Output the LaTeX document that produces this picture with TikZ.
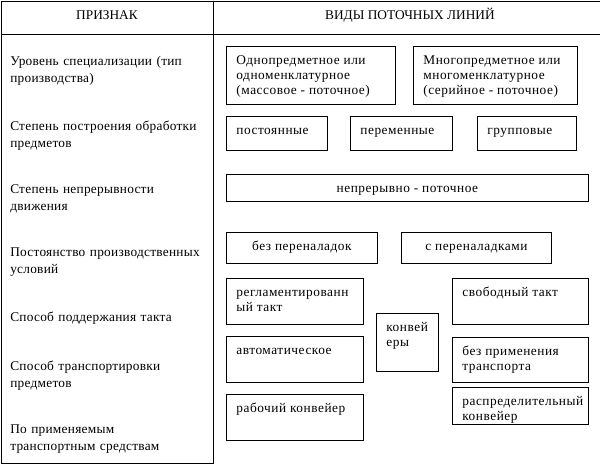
\documentclass[tikz,border=0pt]{standalone}
\usepackage{fontspec}
\setmainfont{Liberation Serif}
\usepackage{tikz}

% box text: width, height, text (top aligned)
\newcommand{\celltext}[3]{\parbox[c][#2][t]{#1}{\vspace*{5.5pt}\raggedright\strut #3}}

\begin{document}
\begin{tikzpicture}[
    x=0.75pt, y=-0.75pt,
    tableline/.style={line width=0.6pt},
    cell/.style={draw, line width=0.6pt, anchor=north west, inner xsep=7.5pt, inner ysep=0pt, font=\fontsize{10}{11.25}\selectfont\addfontfeatures{LetterSpace=4}},
    feature/.style={anchor=base west, inner sep=0pt, text width=150pt, align=left, font=\fontsize{10}{13}\selectfont\addfontfeatures{LetterSpace=2}},
    head/.style={anchor=base, inner sep=0pt, font=\fontsize{10}{12}\selectfont}
]
    \useasboundingbox (0,0) rectangle (601,464);

    % table
    \draw[tableline] (1,1) -- (600,1);
    \draw[tableline] (1,34) -- (600,34);
    \draw[tableline] (1,1) -- (1,463) -- (213,463) -- (213,1);

    \node[head] (priznak) at (107,19) {ПРИЗНАК};
    \node[head] (vidy) at (410,19) {ВИДЫ ПОТОЧНЫХ ЛИНИЙ};

    % left column
    \node[feature] (uroven) at (10,65) {Уровень специализации (тип\\производства)};
    \node[feature] (postroenie) at (10,130) {Степень построения обработки\\предметов};
    \node[feature] (nepreryv) at (10,193) {Степень непрерывности\\движения};
    \node[feature] (uslovia) at (10,256) {Постоянство производственных\\условий};
    \node[feature] (takt) at (10,321) {Способ поддержания такта};
    \node[feature] (transport) at (10,370) {Способ транспортировки\\предметов};
    \node[feature] (sredstva) at (10,433) {По применяемым\\транспортным средствам};

    % types
    \node[cell] (odno) at (226,46) {\celltext{111.75pt}{43.5pt}{Однопредметное или\\одноменклатурное\\(массовое - поточное)}};
    \node[cell] (mnogo) at (413,46) {\celltext{108pt}{43.5pt}{Многопредметное или\\многоменклатурное\\(серийное - поточное)}};

    \node[cell] (post) at (226,116) {\celltext{60.75pt}{25.5pt}{постоянные}};
    \node[cell] (perem) at (350,116) {\celltext{61.5pt}{25.5pt}{переменные}};
    \node[cell] (grup) at (477,116) {\celltext{59.25pt}{25.5pt}{групповые}};

    \node[cell] (potok) at (226,174) {\celltext{256.5pt}{20.25pt}{\centering непрерывно - поточное}};

    \node[cell] (bezper) at (226,232) {\celltext{98.25pt}{23.25pt}{\centering без переналадок}};
    \node[cell] (sper) at (401,232) {\celltext{97.5pt}{23.25pt}{\centering с переналадками}};

    \node[cell] (regl) at (226,278) {\celltext{87.75pt}{34.5pt}{регламентированн\\ый такт}};
    \node[cell] (avto) at (226,336) {\celltext{87.75pt}{34.5pt}{автоматическое}};
    \node[cell] (rab) at (226,394) {\celltext{87.75pt}{34.5pt}{рабочий конвейер}};
    \node[cell] (konv) at (376,313) {\celltext{31.5pt}{43.5pt}{конвей\\еры}};

    \node[cell] (svob) at (452,278) {\celltext{87pt}{34.5pt}{свободный такт}};
    \node[cell] (bezpr) at (452,337) {\celltext{87pt}{33.75pt}{без применения\\транспорта}};
    \node[cell] (raspr) at (452,387) {\celltext{87pt}{27.75pt}{распределительный\\конвейер}};
\end{tikzpicture}
\end{document}
